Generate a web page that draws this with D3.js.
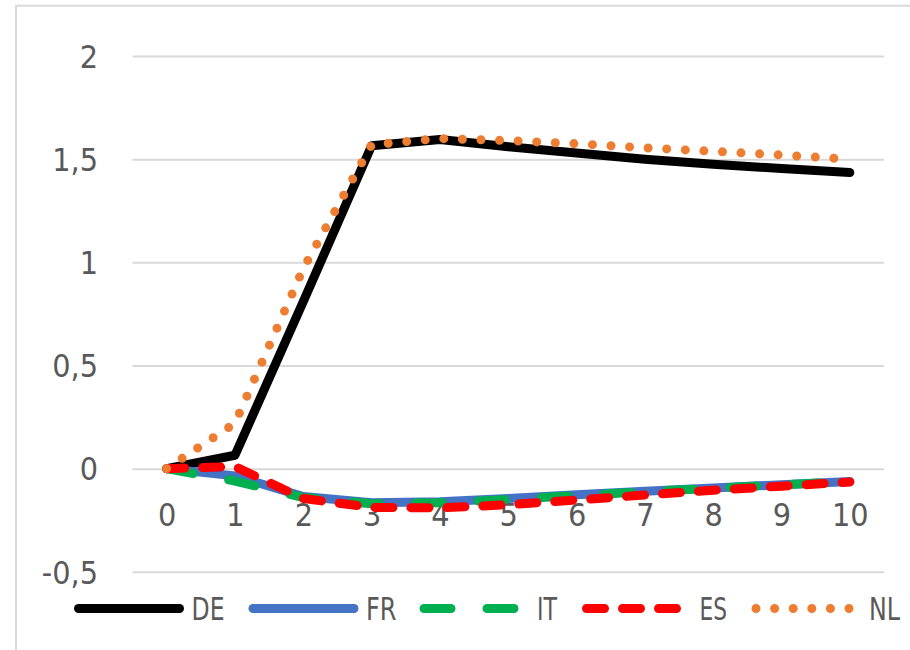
<!DOCTYPE html>
<html>
<head>
<meta charset="utf-8">
<script src="https://cdn.jsdelivr.net/npm/d3@7"></script>
<style>
  html, body { margin: 0; padding: 0; background: #ffffff; }
  svg { display: block; }
  text { font-family: "Liberation Sans Narrow", "DejaVu Sans Condensed", "Liberation Sans", sans-serif; fill: #595959; }
</style>
</head>
<body>
<svg id="chart" width="910" height="650"></svg>
<script>
// ---- data ----
const categories = ["0","1","2","3","4","5","6","7","8","9","10"];
const seriesNames = ["DE","FR","IT","ES","NL"];
const DE = [0, 0.065, 0.81, 1.565, 1.595, 1.56, 1.53, 1.50, 1.475, 1.455, 1.435];
const FR = [0, -0.035, -0.135, -0.165, -0.16, -0.145, -0.127, -0.11, -0.094, -0.078, -0.062];
const IT = [0, -0.06, -0.14, -0.17, -0.165, -0.15, -0.13, -0.112, -0.095, -0.078, -0.062];
const ES = [0, 0.01, -0.145, -0.188, -0.19, -0.175, -0.152, -0.128, -0.105, -0.085, -0.065];
const NL = [0, 0.22, 0.97, 1.57, 1.60, 1.59, 1.575, 1.555, 1.538, 1.52, 1.50];
const yTickValues = [-0.5, 0, 0.5, 1, 1.5, 2];
const yTickLabels = ["-0,5", "0", "0,5", "1", "1,5", "2"];

// ---- styles / layout ----
const seriesValues = { DE, FR, IT, ES, NL };
const colors = { DE: "#000000", FR: "#4472C4", IT: "#00B050", ES: "#FF0000", NL: "#ED7D31" };
const dashes = { DE: null, FR: null, IT: "27,36", ES: "18,18", NL: "0,18.6" };
const legendLayout = {
  DE: { x: 78.5, w: 33 }, FR: { x: 253, w: 30.5 }, IT: { x: 424, w: 20 },
  ES: { x: 586.5, w: 27.5 }, NL: { x: 756, w: 31 }
};
const lineW = 9;
const fontSize = 32;

const svg = d3.select("#chart");
const plotLeft = 132.5, plotRight = 884, plotTop = 56, plotBottom = 571.8;

// chart border
svg.append("rect")
  .attr("x", 16).attr("y", 5.7).attr("width", 1000).attr("height", 1000)
  .attr("fill", "none").attr("stroke", "#D9D9D9").attr("stroke-width", 2);

const x = d3.scalePoint().domain(categories).range([plotLeft, plotRight]).padding(0.5);
const y = d3.scaleLinear().domain([-0.5, 2]).range([plotBottom, plotTop]);

// gridlines
const grid = svg.append("g").attr("transform", `translate(${plotLeft},0)`)
  .call(d3.axisLeft(y).tickValues(yTickValues).tickSize(-(plotRight - plotLeft)).tickFormat(""));
grid.select(".domain").remove();
grid.selectAll(".tick line").attr("stroke", "#D9D9D9").attr("stroke-width", 2);

// y axis labels
const yAxis = svg.append("g").attr("transform", `translate(${plotLeft},0)`)
  .call(d3.axisLeft(y).tickValues(yTickValues).tickSize(0).tickPadding(34.5)
    .tickFormat(d => yTickLabels[yTickValues.indexOf(d)]));
yAxis.select(".domain").remove();
yAxis.selectAll("text").attr("font-size", fontSize).attr("fill", "#595959")
  .attr("font-family", null).attr("dy", "0.35em");

// x axis labels
const xAxis = svg.append("g").attr("transform", `translate(0,515)`)
  .call(d3.axisBottom(x).tickSize(0).tickPadding(0));
xAxis.select(".domain").remove();
xAxis.selectAll("text").attr("font-size", fontSize).attr("fill", "#595959")
  .attr("font-family", null).attr("y", 0).attr("dy", "0.35em");

// lines
const line = d3.line().x((d, i) => x(categories[i])).y(d => y(d));
seriesNames.forEach(name => {
  svg.append("path")
    .datum(seriesValues[name])
    .attr("d", line)
    .attr("fill", "none")
    .attr("stroke", colors[name])
    .attr("stroke-width", lineW)
    .attr("stroke-linecap", "round")
    .attr("stroke-linejoin", "round")
    .attr("stroke-dasharray", dashes[name]);
});

// legend
const legendY = 608.5;
const legendLineLen = 101;
seriesNames.forEach(name => {
  const lx = legendLayout[name].x;
  const g = svg.append("g");
  g.append("line")
    .attr("x1", lx).attr("x2", lx + legendLineLen)
    .attr("y1", legendY).attr("y2", legendY)
    .attr("stroke", colors[name]).attr("stroke-width", lineW)
    .attr("stroke-linecap", "round")
    .attr("stroke-dasharray", dashes[name]);
  const t = g.append("text")
    .attr("x", lx + legendLineLen + 12)
    .attr("y", legendY).attr("dy", "0.35em")
    .attr("font-size", fontSize)
    .text(name);
  const cw = t.node().getComputedTextLength();
  const w = Math.min(cw, legendLayout[name].w);
  t.attr("textLength", w).attr("lengthAdjust", "spacingAndGlyphs");
});
</script>
</body>
</html>
